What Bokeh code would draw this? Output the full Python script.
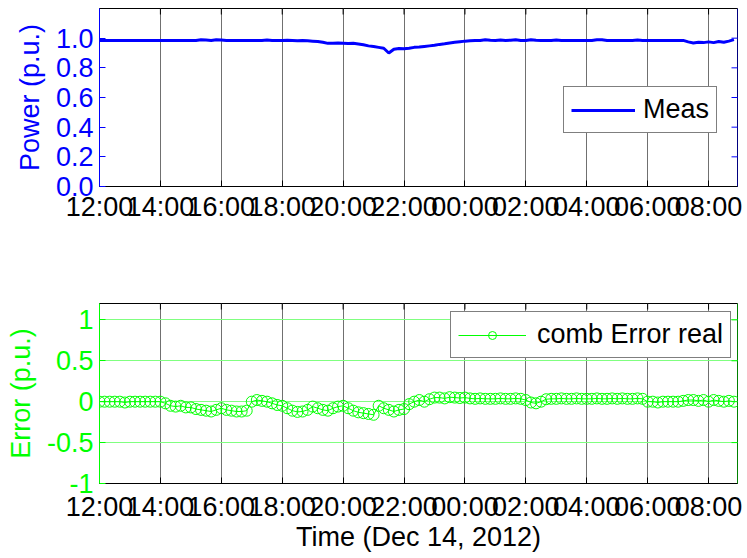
import math
import pandas as pd
from bokeh.plotting import figure
from bokeh.layouts import column
from bokeh.models import Range1d, FixedTicker, Legend, LegendItem, Span
from bokeh.embed import file_html
from bokeh.resources import INLINE

# ---------------- data ----------------
start_time = "2012-12-13 12:00"
end_time = "2012-12-14 08:57"
sample_step_min = 10

# Measured power (p.u.), one row per hour, 10-minute samples
power_meas = [
    0.985, 0.985, 0.984, 0.985, 0.985, 0.985,   # 12h
    0.985, 0.984, 0.985, 0.985, 0.985, 0.984,   # 13h
    0.985, 0.985, 0.984, 0.985, 0.985, 0.985,   # 14h
    0.985, 0.985, 0.990, 0.988, 0.985, 0.990,   # 15h
    0.988, 0.985, 0.985, 0.985, 0.985, 0.985,   # 16h
    0.985, 0.985, 0.985, 0.988, 0.985, 0.985,   # 17h
    0.985, 0.986, 0.985, 0.983, 0.984, 0.982,   # 18h
    0.980, 0.978, 0.972, 0.965, 0.966, 0.968,   # 19h
    0.966, 0.964, 0.965, 0.960, 0.955, 0.948,   # 20h
    0.944, 0.938, 0.932, 0.900, 0.925, 0.930,   # 21h
    0.928, 0.932, 0.938, 0.940, 0.944, 0.948,   # 22h
    0.952, 0.958, 0.962, 0.968, 0.972, 0.976,   # 23h
    0.980, 0.982, 0.984, 0.985, 0.990, 0.986,   # 00h
    0.985, 0.988, 0.985, 0.986, 0.990, 0.985,   # 01h
    0.985, 0.990, 0.986, 0.985, 0.985, 0.985,   # 02h
    0.988, 0.985, 0.985, 0.985, 0.985, 0.985,   # 03h
    0.985, 0.985, 0.990, 0.990, 0.985, 0.985,   # 04h
    0.985, 0.985, 0.985, 0.985, 0.988, 0.985,   # 05h
    0.985, 0.985, 0.985, 0.985, 0.985, 0.985,   # 06h
    0.985, 0.985, 0.975, 0.968, 0.972, 0.970,   # 07h
    0.975, 0.970, 0.978, 0.972, 0.980, 0.990,   # 08h
]

# Combined error (p.u.)
error_real = [
    0.000, 0.000, 0.000, 0.000, 0.000, -0.010,  # 12h
    0.000, 0.000, 0.000, 0.000, 0.000, 0.000,   # 13h
    0.000, -0.020, -0.050, -0.060, -0.050, -0.070,  # 14h
    -0.070, -0.090, -0.100, -0.110, -0.120, -0.100,  # 15h
    -0.080, -0.100, -0.110, -0.120, -0.120, -0.110,  # 16h
    0.000, 0.020, 0.010, 0.000, -0.020, -0.040,  # 17h
    -0.050, -0.080, -0.110, -0.125, -0.120, -0.100,  # 18h
    -0.060, -0.080, -0.100, -0.110, -0.080, -0.060,  # 19h
    -0.050, -0.080, -0.110, -0.130, -0.140, -0.150,  # 20h
    -0.160, -0.050, -0.080, -0.100, -0.120, -0.100,  # 21h
    -0.090, -0.030, 0.000, 0.020, 0.000, 0.030,  # 22h
    0.050, 0.050, 0.040, 0.055, 0.050, 0.045,   # 23h
    0.050, 0.040, 0.035, 0.040, 0.035, 0.035,   # 00h
    0.035, 0.040, 0.035, 0.035, 0.040, 0.035,   # 01h
    0.020, -0.010, -0.020, 0.000, 0.030, 0.035,  # 02h
    0.035, 0.040, 0.035, 0.035, 0.040, 0.035,   # 03h
    0.035, 0.035, 0.040, 0.035, 0.035, 0.040,   # 04h
    0.035, 0.040, 0.035, 0.035, 0.040, 0.035,   # 05h
    0.000, 0.000, -0.010, 0.000, 0.000, 0.000,  # 06h
    0.000, 0.010, 0.020, 0.020, 0.010, 0.020,   # 07h
    0.000, 0.020, 0.010, 0.000, 0.010, 0.000,   # 08h
]

x_tick_times = ["2012-12-13 12:00", "2012-12-13 14:00", "2012-12-13 16:00",
                "2012-12-13 18:00", "2012-12-13 20:00", "2012-12-13 22:00",
                "2012-12-14 00:00", "2012-12-14 02:00", "2012-12-14 04:00",
                "2012-12-14 06:00", "2012-12-14 08:00"]
x_tick_labels = ["12:00", "14:00", "16:00", "18:00", "20:00", "22:00",
                 "00:00", "02:00", "04:00", "06:00", "08:00"]

power_ticks = [0.0, 0.2, 0.4, 0.6, 0.8, 1.0]
power_tick_labels = ["0.0", "0.2", "0.4", "0.6", "0.8", "1.0"]
power_range = (0.0, 1.2)

error_ticks = [-1.0, -0.5, 0.0, 0.5, 1.0]
error_tick_labels = ["-1", "-0.5", "0", "0.5", "1"]
error_range = (-1.0, 1.2)

# ---------------- helpers ----------------
def to_ms(t):
    return pd.Timestamp(t).value // 10**6

t0 = pd.Timestamp(start_time)
times_ms = [to_ms(t0 + pd.Timedelta(minutes=i * sample_step_min))
            for i in range(len(power_meas))]
x_ticks_ms = [to_ms(t) for t in x_tick_times]
x_overrides = {ms: lab for ms, lab in zip(x_ticks_ms, x_tick_labels)}
x_start, x_end = to_ms(start_time), to_ms(end_time)

FONT = "Liberation Sans"
FS = "27px"
BLUE = "#0000ff"
GREEN = "#00ff00"
GRID_GRAY = "#707070"


def style_axis(ax, color, standoff=6):
    ax.axis_line_color = color
    ax.major_tick_line_color = color
    ax.major_tick_in = 6
    ax.major_tick_out = 0
    ax.minor_tick_line_color = None
    ax.major_label_text_font = FONT
    ax.axis_label_text_font = FONT
    ax.axis_label_text_font_style = "normal"
    ax.major_label_text_color = color
    ax.axis_label_text_color = color
    ax.major_label_text_font_size = FS
    ax.axis_label_text_font_size = FS
    ax.major_label_standoff = standoff


def make_fig(height, yr, yticks, ylabels, ycolor, ylabel, bmin_top, bmin_bottom,
             x_standoff, xlabel=None):
    p = figure(width=743, height=height, output_backend="svg", toolbar_location=None,
               x_range=Range1d(x_start, x_end),
               y_range=Range1d(*yr),
               min_border_left=99, min_border_right=6,
               min_border_top=bmin_top, min_border_bottom=bmin_bottom)
    p.title = None
    p.outline_line_color = "black"
    p.outline_line_width = 1
    p.background_fill_color = "white"
    p.border_fill_color = "white"

    xt = FixedTicker(ticks=x_ticks_ms)
    yt = FixedTicker(ticks=yticks)
    y_over = {v: s for v, s in zip(yticks, ylabels)}

    xa = p.xaxis[0]
    xa.ticker = xt
    xa.major_label_overrides = x_overrides
    style_axis(xa, "black", x_standoff)
    if xlabel:
        xa.axis_label = xlabel
        xa.axis_label_standoff = -3

    ya = p.yaxis[0]
    ya.ticker = yt
    ya.major_label_overrides = y_over
    ya.axis_label = ylabel
    ya.axis_label_standoff = 8
    style_axis(ya, ycolor)

    p.xgrid[0].ticker = xt
    p.xgrid[0].grid_line_color = GRID_GRAY
    p.xgrid[0].grid_line_width = 1
    p.ygrid[0].ticker = yt

    # right edge in axis colour, with inward ticks (MATLAB box style)
    p.add_layout(Span(location=x_end, dimension="height", line_color=ycolor, line_width=1))
    p.scatter(x=[x_end] * len(yticks), y=yticks, marker="dash", size=12,
              line_color=ycolor, line_width=1)
    p.scatter(x=x_ticks_ms, y=[yr[1]] * len(x_ticks_ms), marker="dash", size=12,
              angle=math.pi / 2, line_color="black", line_width=1)
    return p


# ---------------- top: power ----------------
p1 = make_fig(278, power_range, power_ticks, power_tick_labels, BLUE,
              "Power (p.u.)", 8, 92, 5)
p1.ygrid[0].grid_line_color = None
r_meas = p1.line(times_ms, power_meas, line_color=BLUE, line_width=3)

leg1 = Legend(items=[LegendItem(label="Meas", renderers=[r_meas])],
              location=(464, 53))
# ---------------- bottom: error ----------------
p2 = make_fig(278, error_range, error_ticks, error_tick_labels, GREEN,
              "Error (p.u.)", 25, 73, 8, xlabel="Time (Dec 14, 2012)")
p2.ygrid[0].grid_line_color = "#80ff80"
p2.ygrid[0].grid_line_width = 1
r_eline = p2.line(times_ms, error_real, line_color=GREEN, line_width=1)
r_ecirc = p2.scatter(times_ms, error_real, marker="circle", size=11,
                     fill_color=None, line_color=GREEN, line_width=1)

leg2 = Legend(items=[LegendItem(label="comb Error real", renderers=[r_eline, r_ecirc])],
              location=(351, 125))

for leg, p in ((leg1, p1), (leg2, p2)):
    leg.border_line_color = "black"
    leg.border_line_width = 1
    leg.background_fill_color = "white"
    leg.background_fill_alpha = 1.0
    leg.label_text_font = FONT
    leg.label_text_font_size = FS
    leg.label_text_color = "black"
    leg.glyph_width = 64
    leg.glyph_height = 20
    leg.label_standoff = 8
    leg.padding = 7
    leg.margin = 0
    leg.spacing = 0
    p.add_layout(leg)

leg2.glyph_width = 68
leg2.label_standoff = 11

layout = column(p1, p2, spacing=0)
with open("out.html", "w") as f:
    f.write(file_html(layout, INLINE))
